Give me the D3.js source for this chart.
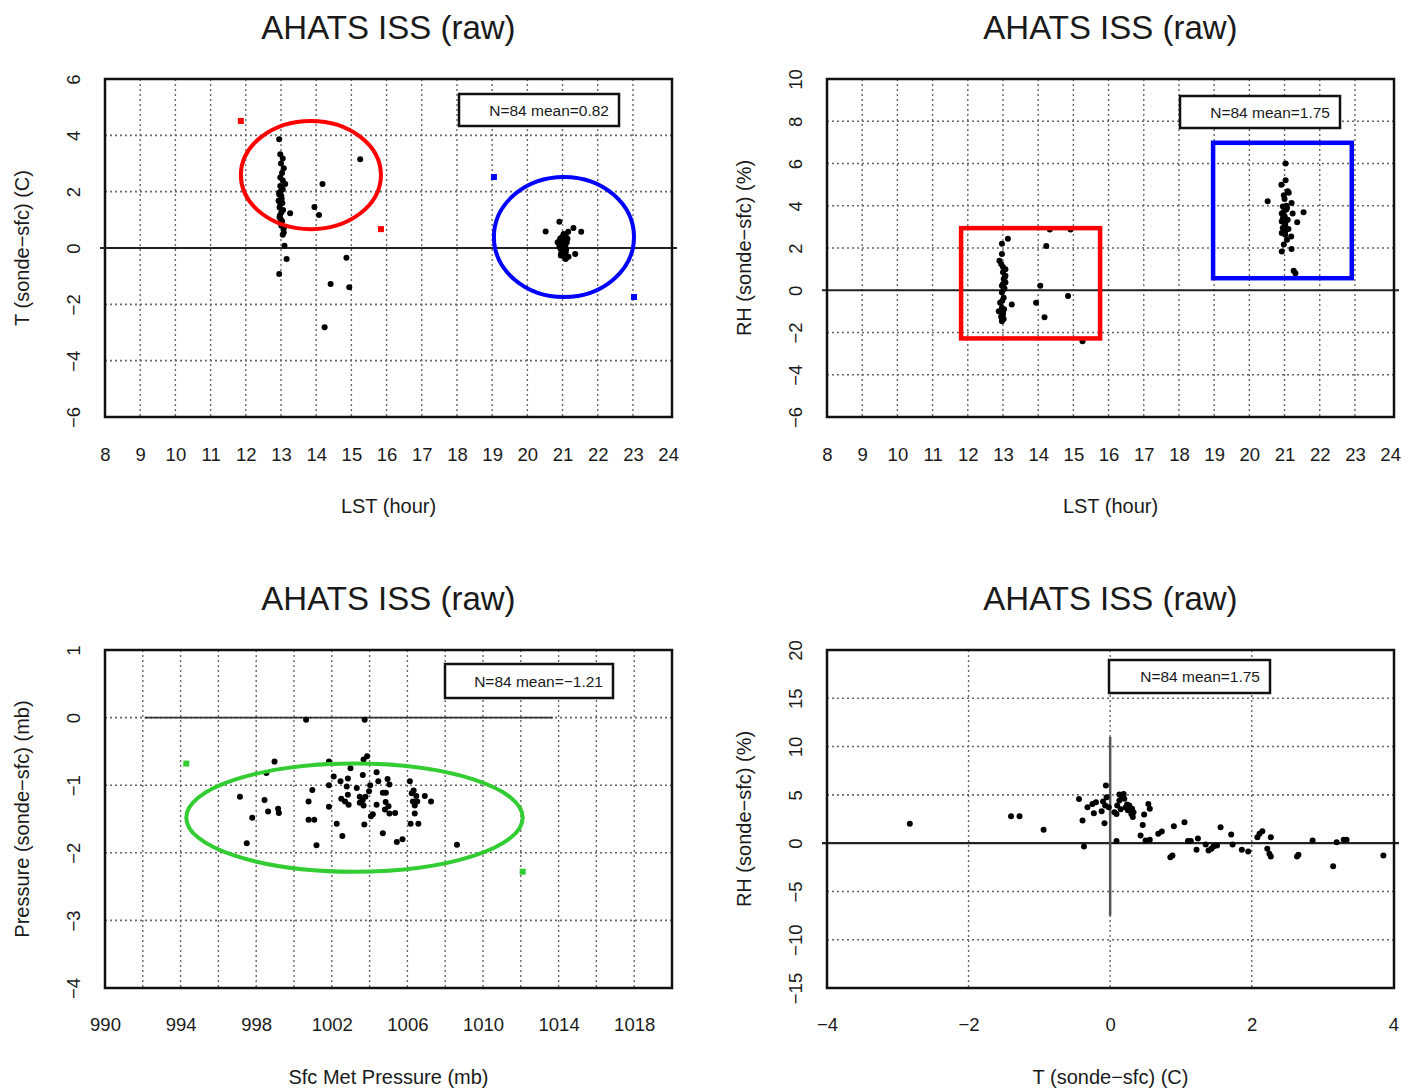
<!DOCTYPE html>
<html>
<head>
<meta charset="utf-8">
<script src="https://cdn.jsdelivr.net/npm/d3@7"></script>
<style>
  body { margin: 0; background: #fff; }
  svg { display: block; }
  text { font-family: "Liberation Sans", Arial, Helvetica, sans-serif; fill: #1a1a1a; }
</style>
</head>
<body>
<div id="chart"></div>
<script>
// ---- data ----
var hourTicks = [8, 9, 10, 11, 12, 13, 14, 15, 16, 17, 18, 19, 20, 21, 22, 23, 24];
var tTicks = [-6, -4, -2, 0, 2, 4, 6];
var rhTicks = [-6, -4, -2, 0, 2, 4, 6, 8, 10];
var pressTicks = [990, 994, 998, 1002, 1006, 1010, 1014, 1018];
var pressGrid = [992, 994, 996, 998, 1000, 1002, 1004, 1006, 1008, 1010, 1012, 1014, 1016, 1018];
var dpTicks = [-4, -3, -2, -1, 0, 1];
var tDiffTicks = [-4, -2, 0, 2, 4];
var rhWideTicks = [-15, -10, -5, 0, 5, 10, 15, 20];

// T (sonde-sfc) vs LST
var tempByHour = [
  [12.95, 3.86], [12.98, 3.33], [13.05, 3.18], [13.08, 2.83], [13.03, 2.66], [13.12, 2.27],
  [12.98, 2.2], [13.05, 2.09], [12.95, 1.97], [13.01, 1.85], [12.93, 1.68], [12.98, 1.56],
  [12.96, 1.44], [13.01, 1.26], [13.26, 1.23], [12.96, 1.09], [13.01, 0.79], [13.08, 0.55],
  [13.05, 0.47], [13.1, 0.08], [13.16, -0.39], [12.95, -0.92],
  [15.25, 3.15], [14.18, 2.27], [13.95, 1.46], [14.08, 1.17], [14.86, -0.35], [14.41, -1.28],
  [14.94, -1.39], [14.24, -2.81],
  [13.0, 3.0], [12.98, 2.5], [13.05, 2.4], [12.95, 1.9], [13.02, 1.75], [13.06, 1.35],
  [12.97, 1.15], [13.03, 0.95], [13.08, 0.7], [12.99, 2.0], [13.04, 1.6], [13.0, 1.0],
  [20.91, 0.93], [20.52, 0.59], [21.31, 0.71], [21.53, 0.58], [21.16, 0.58], [21.09, 0.46],
  [21.0, 0.38], [20.93, 0.3], [20.97, 0.2], [21.03, 0.14], [20.91, 0.08], [21.07, 0.06],
  [20.95, -0.04], [21.02, -0.09], [21.09, -0.15], [21.36, -0.21], [20.95, -0.27], [21.17, -0.31],
  [21.09, -0.39], [21.03, -0.19], [20.86, 0.2], [21.14, 0.33], [20.93, 0.02],
  [21.0, 0.25], [20.97, 0.1], [21.05, 0.0], [21.02, -0.05], [20.98, 0.15], [21.06, 0.25],
  [21.0, -0.12], [20.94, 0.35], [21.08, 0.1], [21.01, 0.42], [20.96, -0.2], [21.04, -0.3],
  [21.0, 0.05], [21.1, -0.05], [20.99, 0.3], [21.12, 0.2], [21.03, 0.5]
];

// RH (sonde-sfc) vs LST
var rhByHour = [
  [13.14, 2.44], [12.97, 2.2], [14.23, 2.09], [12.97, 1.72], [12.9, 1.4], [12.95, 1.24],
  [13.07, 1.0], [13.0, 0.85], [13.07, 0.69], [13.02, 0.53], [13.07, 0.37], [12.97, 0.21],
  [13.02, 0.05], [14.06, 0.21], [12.97, -0.11], [13.02, -0.35], [14.85, -0.27], [13.25, -0.67],
  [13.94, -0.59], [12.92, -0.59], [12.97, -0.83], [12.88, -0.99], [13.0, -1.07], [12.95, -1.23],
  [13.02, -1.36], [14.18, -1.28], [12.97, -1.47], [14.33, 2.87], [14.92, 2.87], [15.26, -2.41],
  [13.0, 0.3], [13.05, 0.6], [12.98, -0.5], [13.03, -0.9], [13.0, -1.15], [12.96, -1.3],
  [13.04, 0.1], [13.0, 1.1],
  [21.03, 6.0], [21.03, 5.21], [20.91, 5.0], [21.09, 4.69], [21.12, 4.62], [20.52, 4.21],
  [21.0, 4.32], [21.2, 4.13], [20.95, 3.97], [21.05, 3.82], [21.23, 3.63], [21.54, 3.69],
  [20.92, 3.63], [21.0, 3.47], [21.09, 3.34], [21.36, 3.22], [20.92, 3.26], [21.02, 3.1],
  [20.95, 2.95], [21.11, 2.9], [20.92, 2.71], [21.02, 2.63], [21.19, 2.55], [20.98, 2.16],
  [21.2, 1.95], [20.92, 1.84], [21.26, 0.92], [21.31, 0.81], [21.07, 2.39], [20.97, 3.55],
  [21.05, 4.0],
  [21.0, 3.5], [20.97, 3.7], [21.05, 3.3], [21.02, 2.8], [20.95, 3.4], [21.0, 3.0],
  [21.07, 3.9], [20.98, 4.5]
];

// Pressure (sonde-sfc) vs Sfc Met Pressure
var dpByPressure = [
  [1000.64, -0.03], [1003.74, -0.03], [998.97, -0.65], [998.54, -0.82], [997.14, -1.17],
  [998.44, -1.22], [998.63, -1.39], [999.16, -1.35], [999.2, -1.41], [997.79, -1.48],
  [997.5, -1.86], [1000.97, -1.07], [1000.77, -1.24], [1000.77, -1.51], [1001.07, -1.51],
  [1001.19, -1.89], [1001.85, -0.65], [1001.85, -1.0], [1002.1, -0.87], [1002.46, -0.94],
  [1002.79, -1.02], [1002.85, -0.9], [1002.99, -0.75], [1003.32, -1.04], [1003.64, -0.85],
  [1003.68, -0.62], [1003.87, -0.57], [1004.37, -0.81], [1004.46, -0.94], [1004.03, -1.0],
  [1003.97, -1.09], [1002.85, -1.14], [1002.5, -1.2], [1002.7, -1.24], [1002.89, -1.29],
  [1003.48, -1.26], [1003.64, -1.22], [1003.78, -1.17], [1001.85, -1.32], [1002.26, -1.57],
  [1002.56, -1.75], [1003.72, -1.58], [1004.07, -1.46], [1004.17, -1.43], [1004.37, -1.29],
  [1004.7, -1.11], [1004.86, -1.11], [1005.05, -0.99], [1004.95, -0.91], [1004.85, -1.25],
  [1005.0, -1.31], [1004.81, -1.36], [1005.35, -1.41], [1005.05, -1.42], [1004.7, -1.71],
  [1005.44, -1.84], [1005.74, -1.8], [1006.13, -0.94], [1006.33, -1.08], [1006.23, -1.12],
  [1006.47, -1.16], [1006.29, -1.24], [1006.52, -1.24], [1006.39, -1.3], [1006.92, -1.16],
  [1007.25, -1.24], [1006.39, -1.42], [1006.17, -1.57], [1006.58, -1.57], [1008.62, -1.88],
  [1003.48, -1.17], [1003.68, -1.3]
];

// RH (sonde-sfc) vs T (sonde-sfc)
var rhByTemp = [
  [-2.83, 2.0], [-1.4, 2.79], [-1.28, 2.79], [-0.94, 1.38], [-0.44, 4.58], [-0.39, 2.34],
  [-0.37, -0.34], [-0.06, 5.96], [-0.32, 3.72], [-0.25, 4.06], [-0.2, 4.24], [-0.23, 3.1],
  [-0.08, 2.07], [-0.05, 4.75], [-0.07, 3.89], [-0.02, 3.72], [0.06, 3.2], [0.13, 4.41],
  [0.13, 5.03], [0.19, 5.1], [0.17, 4.75], [0.22, 3.72], [0.27, 3.89], [0.31, 3.55],
  [0.3, 3.03], [0.25, 3.4], [0.32, 2.7], [0.09, 3.03], [0.09, 0.21], [0.48, 2.96],
  [0.46, 1.89], [0.54, 4.06], [0.56, 3.55], [0.43, 0.79], [0.5, 0.28], [0.56, 0.34],
  [0.68, 0.96], [0.73, 1.21], [0.9, 1.76], [1.05, 2.17], [0.85, -1.45], [0.88, -1.27],
  [1.1, 0.21], [1.14, 0.21], [1.24, 0.48], [1.22, -0.69], [1.35, -0.14], [1.39, -0.76],
  [1.43, -0.59], [1.46, -0.34], [1.51, -0.24], [1.56, 1.65], [1.71, 0.9], [1.73, -0.14],
  [1.86, -0.69], [1.95, -0.86], [2.08, 0.62], [2.11, 0.96], [2.15, 1.24], [2.27, 0.62],
  [2.22, -0.59], [2.25, -1.1], [2.27, -1.38], [2.64, -1.38], [2.66, -1.21], [2.86, 0.28],
  [3.15, -2.38], [3.2, 0.1], [3.3, 0.34], [3.34, 0.34], [3.86, -1.27],
  [0.2, 4.6], [0.28, 3.4], [0.1, 3.9], [-0.12, 3.3], [0.33, 3.2], [0.24, 4.0], [-0.1, 4.3], [0.15, 3.5]
];

var legendTexts = ['N=84 mean=0.82', 'N=84 mean=1.75', 'N=84 mean=\u22121.21', 'N=84 mean=1.75'];

// hand-drawn highlight marks, in data units
var tempMarks = [
  { shape: 'ellipse', color: '#ff0000', x0: 11.86, x1: 15.84, y0: 0.67, y1: 4.51 },
  { shape: 'ellipse', color: '#0000ff', x0: 19.05, x1: 23.03, y0: -1.74, y1: 2.52 }
];
var rhMarks = [
  { shape: 'rect', color: '#ff0000', x0: 11.81, x1: 15.76, y0: -2.28, y1: 2.94 },
  { shape: 'rect', color: '#0000ff', x0: 18.97, x1: 22.91, y0: 0.57, y1: 6.98 }
];
var dpMarks = [
  { shape: 'ellipse', color: '#33cc33', x0: 994.3, x1: 1012.1, y0: -2.28, y1: -0.68 }
];
var dpZeroSpan = [992.1, 1013.7];
var tZeroSpan = [-7.5, 11];

const W = 1419, H = 1090;
const FONT_TICK = '18.5px';
const FONT_LAB = '20px';

var svg = d3.select('#chart').append('svg').attr('width', W).attr('height', H);

function minus(d) {
  return String(d).replace('-', '\u2212');
}

function drawPanel(p) {
  var x = d3.scaleLinear().domain(p.xDomain).range([p.left, p.right]);
  var y = d3.scaleLinear().domain(p.yDomain).range([p.bottom, p.top]);
  var g = svg.append('g');

  // title
  g.append('text')
    .attr('x', (p.left + p.right) / 2)
    .attr('y', p.top - 40)
    .attr('text-anchor', 'middle')
    .style('font-size', '33px')
    .text('AHATS ISS (raw)');

  // dotted grid
  g.selectAll('line.vgrid').data(p.xGrid).enter().append('line')
    .attr('class', 'vgrid')
    .attr('x1', (d) => x(d)).attr('x2', (d) => x(d))
    .attr('y1', p.top).attr('y2', p.bottom)
    .attr('stroke', '#666').attr('stroke-width', 1.4)
    .attr('stroke-dasharray', '2,3');
  g.selectAll('line.hgrid').data(p.yGrid).enter().append('line')
    .attr('class', 'hgrid')
    .attr('y1', (d) => y(d)).attr('y2', (d) => y(d))
    .attr('x1', p.left).attr('x2', p.right)
    .attr('stroke', '#666').attr('stroke-width', 1.6)
    .attr('stroke-dasharray', '2,3');

  // reference lines
  if (p.zeroSpan) {
    g.append('line')
      .attr('x1', x(p.zeroSpan[0])).attr('x2', x(p.zeroSpan[1]))
      .attr('y1', y(0)).attr('y2', y(0))
      .attr('stroke', '#333').attr('stroke-width', 1.6);
  } else {
    g.append('line')
      .attr('x1', p.left - 5).attr('x2', p.right + 5)
      .attr('y1', y(0)).attr('y2', y(0))
      .attr('stroke', '#222').attr('stroke-width', 2.2);
  }
  if (p.vSpan) {
    g.append('line')
      .attr('x1', x(0)).attr('x2', x(0))
      .attr('y1', y(p.vSpan[0])).attr('y2', y(p.vSpan[1]))
      .attr('stroke', '#555').attr('stroke-width', 2.5);
  }

  // tick labels
  var xAxis = g.append('g')
    .attr('transform', `translate(0,${p.bottom})`)
    .call(d3.axisBottom(x).tickValues(p.xTicks).tickSize(0).tickPadding(p.xPad).tickFormat(minus));
  xAxis.select('.domain').remove();
  xAxis.selectAll('text').style('font-size', FONT_TICK).attr('fill', '#1a1a1a');

  var yAxis = g.append('g')
    .attr('transform', `translate(${p.left},0)`)
    .call(d3.axisLeft(y).tickValues(p.yTicks).tickSize(0).tickFormat(minus));
  yAxis.select('.domain').remove();
  yAxis.selectAll('text')
    .attr('x', null).attr('dy', null)
    .attr('transform', 'translate(-32,0) rotate(-90)')
    .attr('text-anchor', 'middle')
    .attr('dominant-baseline', 'central')
    .style('font-size', FONT_TICK).attr('fill', '#1a1a1a');

  // axis titles
  g.append('text')
    .attr('x', (p.left + p.right) / 2)
    .attr('y', p.bottom + 96)
    .attr('text-anchor', 'middle')
    .style('font-size', FONT_LAB)
    .text(p.xLabel);
  g.append('text')
    .attr('transform', `translate(${p.left - 83},${(p.top + p.bottom) / 2}) rotate(-90)`)
    .attr('text-anchor', 'middle')
    .attr('dominant-baseline', 'central')
    .style('font-size', FONT_LAB)
    .text(p.yLabel);

  // points
  g.selectAll('circle.pt').data(p.points).enter().append('circle')
    .attr('class', 'pt')
    .attr('cx', (d) => x(d[0]))
    .attr('cy', (d) => y(d[1]))
    .attr('r', 3)
    .attr('fill', '#000');

  // plot frame
  g.append('rect')
    .attr('x', p.left).attr('y', p.top)
    .attr('width', p.right - p.left).attr('height', p.bottom - p.top)
    .attr('fill', 'none').attr('stroke', '#111').attr('stroke-width', 2.5);

  // legend box
  var lg = p.legend;
  g.append('rect')
    .attr('x', lg.x).attr('y', lg.y).attr('width', lg.w).attr('height', lg.h)
    .attr('fill', '#fff').attr('stroke', '#111').attr('stroke-width', 2.5);
  g.append('text')
    .attr('x', lg.x + lg.w - 10)
    .attr('y', lg.y + lg.h / 2)
    .attr('text-anchor', 'end')
    .attr('dominant-baseline', 'central')
    .style('font-size', '15.5px')
    .text(lg.text);

  // highlight marks
  (p.marks || []).forEach((m) => {
    var px0 = x(m.x0), px1 = x(m.x1), py0 = y(m.y1), py1 = y(m.y0);
    if (m.shape === 'ellipse') {
      g.append('ellipse')
        .attr('cx', (px0 + px1) / 2).attr('cy', (py0 + py1) / 2)
        .attr('rx', (px1 - px0) / 2).attr('ry', (py1 - py0) / 2)
        .attr('fill', 'none').attr('stroke', m.color).attr('stroke-width', 4);
      [[px0, py0], [px1, py1]].forEach((c) => {
        g.append('rect')
          .attr('x', c[0] - 3).attr('y', c[1] - 3).attr('width', 6).attr('height', 6)
          .attr('fill', m.color);
      });
    } else {
      g.append('rect')
        .attr('x', px0).attr('y', py0)
        .attr('width', px1 - px0).attr('height', py1 - py0)
        .attr('fill', 'none').attr('stroke', m.color).attr('stroke-width', 4.5);
    }
  });
}

drawPanel({
  left: 105, right: 672, top: 79, bottom: 417,
  xDomain: [8, 24.11], yDomain: [-6, 6],
  xTicks: hourTicks, yTicks: tTicks, xPad: 31,
  xGrid: hourTicks.slice(1, -1), yGrid: [-4, -2, 2, 4],
  xLabel: 'LST (hour)', yLabel: 'T (sonde\u2212sfc) (C)',
  points: tempByHour, marks: tempMarks,
  legend: { x: 459, y: 94, w: 160, h: 32, text: legendTexts[0] }
});

drawPanel({
  left: 827, right: 1394, top: 79, bottom: 417,
  xDomain: [8, 24.11], yDomain: [-6, 10],
  xTicks: hourTicks, yTicks: rhTicks, xPad: 31,
  xGrid: hourTicks.slice(1, -1), yGrid: [-4, -2, 2, 4, 6, 8],
  xLabel: 'LST (hour)', yLabel: 'RH (sonde\u2212sfc) (%)',
  points: rhByHour, marks: rhMarks,
  legend: { x: 1180, y: 96, w: 160, h: 32, text: legendTexts[1] }
});

drawPanel({
  left: 105, right: 672, top: 650, bottom: 988,
  xDomain: [990, 1020], yDomain: [-4, 1],
  xTicks: pressTicks, yTicks: dpTicks, xPad: 30,
  xGrid: pressGrid, yGrid: [-3, -2, -1, 0],
  xLabel: 'Sfc Met Pressure (mb)', yLabel: 'Pressure (sonde\u2212sfc) (mb)',
  points: dpByPressure, marks: dpMarks, zeroSpan: dpZeroSpan,
  legend: { x: 445, y: 664, w: 168, h: 34, text: legendTexts[2] }
});

drawPanel({
  left: 827, right: 1394, top: 650, bottom: 988,
  xDomain: [-4, 4.01], yDomain: [-15, 20],
  xTicks: tDiffTicks, yTicks: rhWideTicks, xPad: 30,
  xGrid: [-2, 0, 2], yGrid: [-10, -5, 5, 10, 15],
  xLabel: 'T (sonde\u2212sfc) (C)', yLabel: 'RH (sonde\u2212sfc) (%)',
  points: rhByTemp, vSpan: tZeroSpan,
  legend: { x: 1109, y: 660, w: 161, h: 33, text: legendTexts[3] }
});
</script>
</body>
</html>
